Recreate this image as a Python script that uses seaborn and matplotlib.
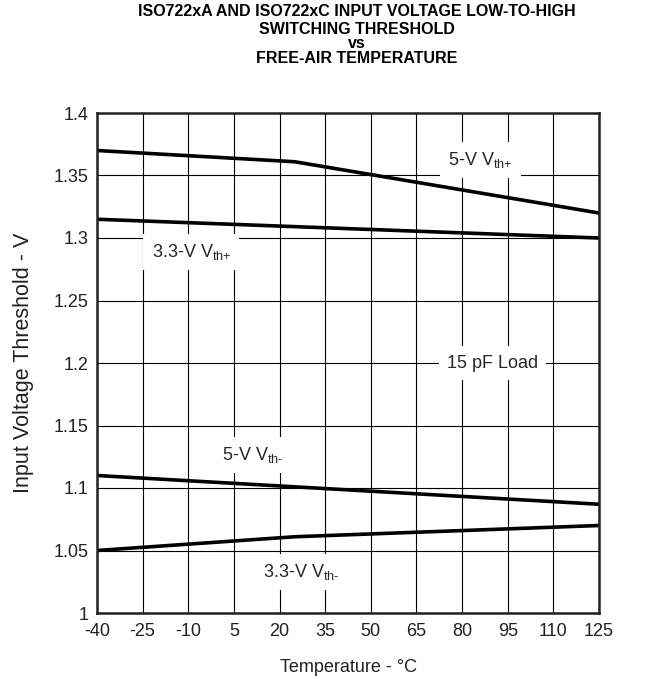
import matplotlib
matplotlib.use("Agg")
import matplotlib.pyplot as plt
import seaborn as sns
import pandas as pd

temp_5v_hi = [-40, 25, 125]
vth_5v_hi = [1.370, 1.361, 1.320]
temp_33_hi = [-40, 125]
vth_33_hi = [1.315, 1.300]
temp_5v_lo = [-40, 125]
vth_5v_lo = [1.110, 1.087]
temp_33_lo = [-40, 25, 125]
vth_33_lo = [1.050, 1.061, 1.070]

x_ticks = [-40, -25, -10, 5, 20, 35, 50, 65, 80, 95, 110, 125]
y_ticks = [1, 1.05, 1.1, 1.15, 1.2, 1.25, 1.3, 1.35, 1.4]
y_tick_labels = ["1", "1.05", "1.1", "1.15", "1.2", "1.25", "1.3", "1.35", "1.4"]
title_lines = ["ISO722xA AND ISO722xC INPUT VOLTAGE LOW-TO-HIGH",
               "SWITCHING THRESHOLD", "vs", "FREE-AIR TEMPERATURE"]

sns.set_style("white")
plt.rcParams['font.family'] = ['Liberation Sans', 'DejaVu Sans']
plt.rcParams['mathtext.fontset'] = 'custom'
plt.rcParams['mathtext.rm'] = 'Liberation Sans'

W, H = 645, 679
fig = plt.figure(figsize=(W / 100, H / 100), dpi=100)
ax = fig.add_axes([97 / W, 1 - 613 / H, (599 - 97) / W, (613 - 113) / H])

series = [(temp_5v_hi, vth_5v_hi), (temp_33_hi, vth_33_hi),
          (temp_5v_lo, vth_5v_lo), (temp_33_lo, vth_33_lo)]
for t, v in series:
    df = pd.DataFrame({"T": t, "V": v})
    sns.lineplot(data=df, x="T", y="V", color="black", linewidth=2.6, ax=ax, zorder=5)

ax.set_xlim(-40, 125)
ax.set_ylim(1.0, 1.4)
ax.set_xticks(x_ticks)
ax.set_xticklabels([str(t) for t in x_ticks])
ax.set_yticks(y_ticks)
ax.set_yticklabels(y_tick_labels)
ax.grid(True, color="black", linewidth=0.8, zorder=1)
ax.set_axisbelow(True)
ax.tick_params(axis="both", length=0, labelsize=13, colors="#222222")
ax.tick_params(axis="x", pad=7)
ax.tick_params(axis="y", pad=6)
for s in ax.spines.values():
    s.set_color("#222222")
    s.set_linewidth(1.8)
    s.set_zorder(6)

ax.set_xlabel("Temperature - °C", fontsize=13, labelpad=14, color="#222222")
ax.set_ylabel("Input Voltage Threshold - V", fontsize=15.5, labelpad=14, color="#222222")

box = dict(facecolor="white", edgecolor="none", pad=6)
fs = 13
ax.text(86, 1.3624, r"5-V V$_{\text{th+}}$", fontsize=fs, ha="center", va="center", bbox=box, zorder=3)
ax.text(-9, 1.2888, r"3.3-V V$_{\text{th+}}$", fontsize=fs, ha="center", va="center", bbox=box, zorder=3)
ax.text(90, 1.2, "15 pF Load", fontsize=fs, ha="center", va="center", bbox=box, zorder=3)
ax.text(11, 1.1264, r"5-V V$_{\text{th-}}$", fontsize=fs, ha="center", va="center", bbox=box, zorder=3)
ax.text(27, 1.0328, r"3.3-V V$_{\text{th-}}$", fontsize=fs, ha="center", va="center", bbox=box, zorder=3)

tx = 357 / W
fig.text(tx, 1 - 16.5 / H, title_lines[0], ha="center", va="baseline", fontsize=11.5,
         fontweight="bold", color="black")
fig.text(tx, 1 - 22 / H, "\n".join(title_lines[1:]), ha="center", va="top",
         multialignment="center", fontsize=11.5, fontweight="bold", color="black",
         linespacing=0.95)

fig.savefig("out.png", dpi=100)
